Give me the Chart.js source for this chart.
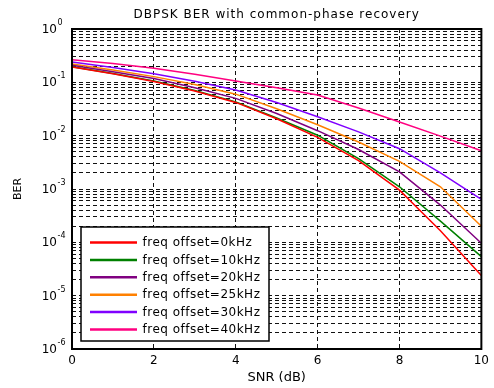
<!DOCTYPE html>
<html><head><meta charset="utf-8">
<script src="https://cdn.jsdelivr.net/npm/chart.js@4/dist/chart.umd.min.js"></script>
<style>html,body{margin:0;padding:0;background:#fff}#wrap{width:494px;height:388px}</style>
</head><body><div id="wrap"><canvas id="c" width="494" height="388"></canvas></div>
<script>
const titleText = 'DBPSK BER with common-phase recovery';
const xTitle = 'SNR (dB)';
const yTitle = 'BER';
const snr = [0, 1, 2, 3, 4, 5, 6, 7, 8, 9, 10];
const ber0k  = [0.195, 0.145, 0.104, 0.069, 0.042, 0.0208, 0.0093, 0.0034, 0.00095, 0.000165, 0.000024];
const ber10k = [0.197, 0.146, 0.106, 0.070, 0.043, 0.0215, 0.0102, 0.0037, 0.0011, 0.00025, 0.000054];
const ber20k = [0.21, 0.158, 0.118, 0.079, 0.050, 0.026, 0.0124, 0.0055, 0.0021, 0.00050, 0.000096];
const ber25k = [0.22, 0.17, 0.128, 0.091, 0.060, 0.032, 0.016, 0.0076, 0.0033, 0.0011, 0.00020];
const ber30k = [0.24, 0.19, 0.145, 0.105, 0.072, 0.042, 0.0227, 0.0118, 0.0057, 0.0020, 0.00064];
const ber40k = [0.265, 0.225, 0.183, 0.142, 0.106, 0.079, 0.058, 0.033, 0.018, 0.0098, 0.0052];
const seriesLabels = ['freq offset=0kHz', 'freq offset=10kHz', 'freq offset=20kHz', 'freq offset=25kHz', 'freq offset=30kHz', 'freq offset=40kHz'];
const seriesColors = ['#ff0000', '#008000', '#800080', '#ff8000', '#8000ff', '#ff0080'];
const xTicks = [0, 2, 4, 6, 8, 10];
const yExponents = [0, -1, -2, -3, -4, -5, -6];
const yMantissas = [1, 2, 3, 4, 5, 6, 7, 8, 9];

const allSeries = [ber0k, ber10k, ber20k, ber25k, ber30k, ber40k];
const datasets = allSeries.map((arr, i) => ({
  label: seriesLabels[i],
  data: snr.map((s, j) => ({x: s, y: arr[j]})),
  borderColor: seriesColors[i],
  backgroundColor: seriesColors[i],
  borderWidth: 1.5,
  pointRadius: 0,
  tension: 0,
  fill: false
}));

const FONT = '"DejaVu Sans", sans-serif';

const decor = {
  id: 'decor',
  afterDraw(chart) {
    const {ctx, chartArea: a, scales} = chart;
    ctx.save();
    ctx.strokeStyle = '#000';
    ctx.lineWidth = 2;
    ctx.strokeRect(a.left, a.top, a.right - a.left, a.bottom - a.top);
    ctx.fillStyle = '#000';
    ctx.font = '12px ' + FONT;
    ctx.textAlign = 'center';
    ctx.textBaseline = 'middle';
    try { ctx.letterSpacing = '1px'; } catch (e) {}
    ctx.fillText(titleText, (a.left + a.right) / 2, 15);
    try { ctx.letterSpacing = '0px'; } catch (e) {}
    const ys = scales.y;
    yExponents.forEach(e => {
      const py = ys.getPixelForValue(Math.pow(10, e));
      ctx.font = '12px ' + FONT;
      ctx.textAlign = 'right';
      ctx.textBaseline = 'middle';
      ctx.fillText('10', 57, py + 1);
      ctx.font = '8px ' + FONT;
      ctx.textAlign = 'left';
      ctx.textBaseline = 'alphabetic';
      ctx.fillText(String(e), 57.5, py - 4);
    });
    const lx = 81, ly = 227, lw = 188, lh = 114;
    ctx.fillStyle = '#fff';
    ctx.fillRect(lx, ly, lw, lh);
    ctx.strokeStyle = '#000';
    ctx.lineWidth = 1.5;
    ctx.strokeRect(lx, ly, lw, lh);
    chart.data.datasets.forEach((ds, i) => {
      const cy = 242.5 + i * 17.4;
      ctx.strokeStyle = ds.borderColor;
      ctx.lineWidth = 2.5;
      ctx.beginPath();
      ctx.moveTo(90, cy);
      ctx.lineTo(137, cy);
      ctx.stroke();
      ctx.fillStyle = '#000';
      ctx.font = '12px ' + FONT;
      ctx.textAlign = 'left';
      ctx.textBaseline = 'middle';
      try { ctx.letterSpacing = '0.5px'; } catch (e) {}
      ctx.fillText(ds.label, 142.5, cy + 0.5);
      try { ctx.letterSpacing = '0px'; } catch (e) {}
    });
    ctx.restore();
  }
};

new Chart(document.getElementById('c'), {
  type: 'line',
  data: {datasets},
  plugins: [decor],
  options: {
    responsive: false,
    animation: false,
    layout: {padding: {left: 0, right: 10, top: 29, bottom: 0}},
    plugins: {legend: {display: false}, title: {display: false}, tooltip: {enabled: false}},
    scales: {
      x: {
        type: 'linear', min: 0, max: 10,
        afterBuildTicks: s => { s.ticks = xTicks.map(v => ({value: v})); },
        afterFit: s => { s.height = 39; },
        ticks: {color: '#000', font: {family: FONT, size: 12}, padding: 5, autoSkip: false, maxRotation: 0},
        grid: {color: '#111', lineWidth: 1, drawTicks: false},
        border: {display: false, dash: [4, 3]},
        title: {display: true, text: xTitle, color: '#000', font: {family: FONT, size: 13}, padding: {top: 0, bottom: 3}}
      },
      y: {
        type: 'logarithmic', min: 1e-6, max: 1,
        afterBuildTicks: s => {
          const t = [];
          yExponents.forEach(e => yMantissas.forEach(m => {
            const v = m * Math.pow(10, e);
            if (v >= 1e-6 && v <= 1) t.push({value: v});
          }));
          s.ticks = t;
        },
        afterFit: s => { s.width = 72; },
        ticks: {display: false, autoSkip: false},
        grid: {color: '#111', lineWidth: 1, drawTicks: false},
        border: {display: false, dash: [4, 3]},
        title: {display: true, text: yTitle, color: '#000', font: {family: FONT, size: 11}, padding: {top: 12, bottom: 0}}
      }
    }
  }
});
</script></body></html>
